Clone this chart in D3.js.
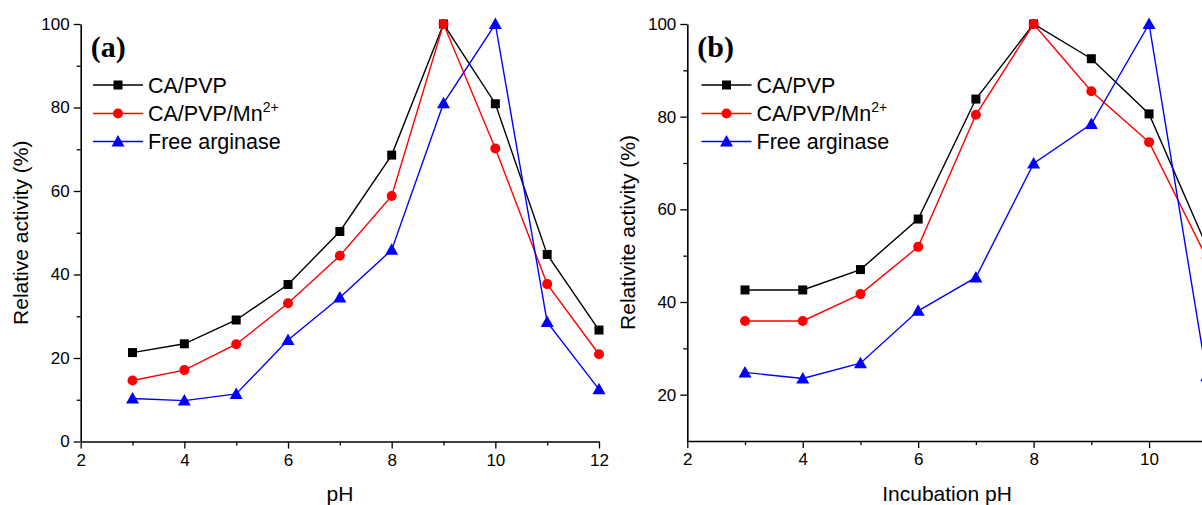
<!DOCTYPE html>
<html>
<head>
<meta charset="utf-8">
<script src="https://cdn.jsdelivr.net/npm/d3@7"></script>
<style>
  html, body { margin: 0; padding: 0; background: #fff; overflow: hidden; }
  svg { display: block; }
  text { font-family: "Liberation Sans", Arial, sans-serif; fill: #000; }
</style>
</head>
<body>
<svg id="chart" width="1202" height="505"></svg>
<script>
// ---------- data ----------
const phA = [3, 4, 5, 6, 7, 8, 9, 10, 11, 12];
const aCaPvp   = [21.3, 23.4, 29.1, 37.6, 50.3, 68.6, 100, 80.9, 44.8, 26.7];
const aCaPvpMn = [14.6, 17.1, 23.3, 33.1, 44.5, 58.8, 100, 70.2, 37.7, 20.9];
const aFree    = [10.3, 9.8, 11.4, 24.3, 34.5, 45.9, 81.0, 100, 28.6, 12.5];

const phB = [3, 4, 5, 6, 7, 8, 9, 10, 11];
const bCaPvp   = [42.6, 42.6, 47.0, 57.9, 83.8, 100, 92.5, 80.6, 52.0];
const bCaPvpMn = [35.9, 35.9, 41.7, 51.9, 80.4, 100, 85.5, 74.5, 49.5];
const bFree    = [24.8, 23.5, 26.8, 38.1, 45.3, 69.9, 78.4, 100, 24.0];

const xTicksA = [2, 4, 6, 8, 10, 12];
const xTicksB = [2, 4, 6, 8, 10];
const xMinor = [3, 5, 7, 9, 11];
const yTicksA = [0, 20, 40, 60, 80, 100];
const yMinorA = [10, 30, 50, 70, 90];
const yTicksB = [20, 40, 60, 80, 100];
const yMinorB = [30, 50, 70, 90];

const seriesNames = ["CA/PVP", "CA/PVP/Mn", "Free arginase"];
const colors = ["#000000", "#ff0000", "#0000ff"];
const shapes = ["square", "circle", "triangle"];

const svg = d3.select("#chart");

function marker(g, shape, color, cx, cy) {
  if (shape === "square") {
    g.append("rect").attr("x", cx - 4.5).attr("y", cy - 4.5).attr("width", 9).attr("height", 9).attr("fill", color);
  } else if (shape === "circle") {
    g.append("circle").attr("cx", cx).attr("cy", cy).attr("r", 5).attr("fill", color);
  } else {
    g.append("path").attr("d", `M${cx},${cy - 6.5}L${cx + 6.5},${cy + 5}L${cx - 6.5},${cy + 5}Z`).attr("fill", color);
  }
}

function panel(opts) {
  const { x, y, ph, series, xTicks, yTicks, yMinor, label, ytitle, ytitleX, xtitle, xtitleX, legX } = opts;
  const g = svg.append("g");

  // axes
  g.append("g").attr("transform", `translate(${x.range()[0]},0)`)
    .call(d3.axisLeft(y).tickValues(yTicks).tickSize(7).tickSizeOuter(0).tickPadding(4));
  g.append("g").attr("transform", `translate(${x.range()[0]},0)`)
    .call(d3.axisLeft(y).tickValues(yMinor).tickSize(4).tickFormat("")).select(".domain").remove();
  g.append("g").attr("transform", `translate(0,${y.range()[0]})`)
    .call(d3.axisBottom(x).tickValues(xTicks).tickSize(7).tickSizeOuter(0).tickPadding(5));
  g.append("g").attr("transform", `translate(0,${y.range()[0]})`)
    .call(d3.axisBottom(x).tickValues(xMinor).tickSize(4).tickFormat("")).select(".domain").remove();
  g.selectAll(".domain").attr("stroke", "#000").attr("stroke-width", 1.6);
  g.selectAll(".tick line").attr("stroke", "#000").attr("stroke-width", 1.3);
  g.selectAll(".tick text").style("font-family", '"Liberation Sans", Arial, sans-serif').style("font-size", "17px").attr("fill", "#000");

  // series
  series.forEach((vals, i) => {
    const pts = ph.map((p, j) => [x(p), y(vals[j])]);
    g.append("path").attr("d", d3.line()(pts)).attr("fill", "none")
      .attr("stroke", colors[i]).attr("stroke-width", 1.4);
    pts.forEach(([cx, cy]) => marker(g, shapes[i], colors[i], cx, cy));
  });

  // panel label
  g.append("text").attr("x", x.range()[0] + 10).attr("y", 57)
    .style("font-family", '"Liberation Serif", "Times New Roman", serif').style("font-weight", "bold").style("font-size", "30px")
    .text(label);

  // legend
  const rows = [85, 113.5, 141.5];
  seriesNames.forEach((name, i) => {
    g.append("line").attr("x1", legX).attr("x2", legX + 50).attr("y1", rows[i]).attr("y2", rows[i])
      .attr("stroke", colors[i]).attr("stroke-width", 1.4);
    marker(g, shapes[i], colors[i], legX + 25, rows[i]);
    const t = g.append("text").attr("x", legX + 55).attr("y", rows[i] + 7.5).style("font-size", "21.5px");
    t.append("tspan").text(name);
    if (i === 1) t.append("tspan").attr("dy", -9).style("font-size", "14px").text("2+");
  });

  // axis titles
  g.append("text").attr("transform", `translate(${ytitleX},${(y.range()[0] + y.range()[1]) / 2}) rotate(-90)`)
    .attr("text-anchor", "middle").attr("dy", "0.35em").style("font-size", "21px").text(ytitle);
  g.append("text").attr("x", xtitleX).attr("y", 501).attr("text-anchor", "middle").style("font-size", "21px").text(xtitle);
}

panel({
  x: d3.scaleLinear().domain([2, 12]).range([80.7, 599]),
  y: d3.scaleLinear().domain([0, 100]).range([441.5, 24]),
  ph: phA, series: [aCaPvp, aCaPvpMn, aFree], xTicks: xTicksA,
  yTicks: yTicksA, yMinor: yMinorA, label: "(a)",
  ytitle: "Relative activity (%)", ytitleX: 21, xtitle: "pH", xtitleX: 340, legX: 93
});
panel({
  x: d3.scaleLinear().domain([2, 12]).range([687.3, 1264.5]),
  y: d3.scaleLinear().domain([10, 100]).range([441, 24]),
  ph: phB, series: [bCaPvp, bCaPvpMn, bFree], xTicks: xTicksB,
  yTicks: yTicksB, yMinor: yMinorB, label: "(b)",
  ytitle: "Relativite activity (%)", ytitleX: 628, xtitle: "Incubation pH", xtitleX: 947, legX: 701.5
});
</script>
</body>
</html>
